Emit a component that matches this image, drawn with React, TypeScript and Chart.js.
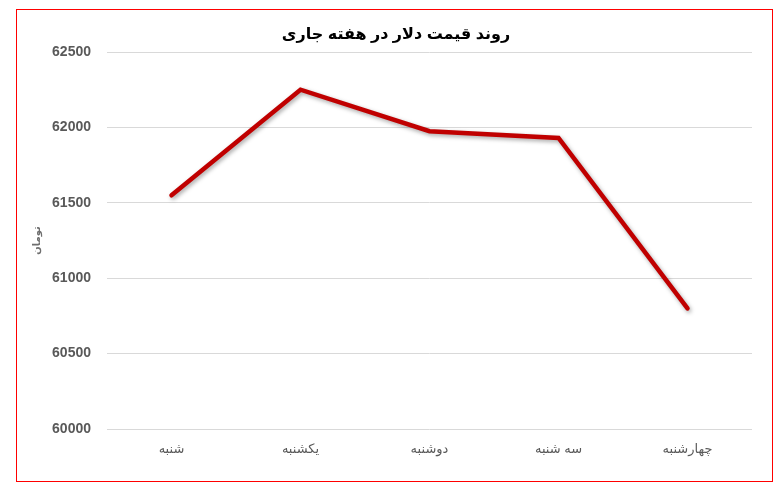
import React, { useEffect, useRef } from "react";
import { Chart, registerables } from "chart.js";

Chart.register(...registerables);

const days = ["شنبه", "یکشنبه", "دوشنبه", "سه شنبه", "چهارشنبه"];
const prices = [61550, 62250, 61975, 61930, 60800];
const yTicks = [60000, 60500, 61000, 61500, 62000, 62500];
const chartTitle = "روند قیمت دلار در هفته جاری";
const yTitle = "تومان";

const shadowPlugin = {
  id: "lineShadow",
  beforeDatasetsDraw(chart: any) {
    const ctx = chart.ctx;
    ctx.save();
    ctx.shadowColor = "rgba(0,0,0,0.35)";
    ctx.shadowBlur = 4;
    ctx.shadowOffsetX = 1.5;
    ctx.shadowOffsetY = 2;
  },
  afterDatasetsDraw(chart: any) {
    chart.ctx.restore();
  },
};

const bgPlugin = {
  id: "bg",
  beforeDraw(chart: any) {
    const ctx = chart.ctx;
    ctx.save();
    ctx.fillStyle = "#ffffff";
    ctx.fillRect(0, 0, chart.width, chart.height);
    ctx.restore();
  },
};

const titlePlugin = {
  id: "customTitle",
  afterDraw(chart: any) {
    const ctx = chart.ctx;
    ctx.save();
    ctx.fillStyle = "#000000";
    ctx.font = "bold 16px 'Liberation Sans', Arial, 'DejaVu Sans', sans-serif";
    ctx.textAlign = "center";
    ctx.textBaseline = "middle";
    ctx.fillText(chartTitle, 396, 35);
    ctx.restore();
  },
};

export default function App() {
  const ref = useRef<HTMLCanvasElement | null>(null);

  useEffect(() => {
    document.body.style.margin = "0";
    const canvas = ref.current;
    if (!canvas) return;
    const chart = new Chart(canvas, {
      type: "line",
      data: {
        labels: days,
        datasets: [
          {
            data: prices,
            borderColor: "#C00000",
            borderWidth: 4.5,
            pointRadius: 0,
            pointHoverRadius: 0,
            tension: 0,
            fill: false,
            borderCapStyle: "round",
            borderJoinStyle: "miter",
          },
        ],
      },
      options: {
        animation: false,
        responsive: false,
        maintainAspectRatio: false,
        layout: { padding: { left: 0, right: 30, top: 52, bottom: 0 } },
        plugins: {
          legend: { display: false },
          tooltip: { enabled: false },
          title: { display: false },
        },
        scales: {
          x: {
            type: "category",
            offset: true,
            afterFit(scale: any) {
              scale.height = 56;
            },
            grid: { display: false, drawTicks: false, offset: true },
            border: { display: false },
            ticks: {
              color: "#595959",
              padding: 13,
              maxRotation: 0,
              font: { family: "'Liberation Sans', Arial, 'DejaVu Sans', sans-serif", size: 13 },
            },
          },
          y: {
            min: 60000,
            max: 62500,
            afterBuildTicks(scale: any) {
              scale.ticks = yTicks.map((v) => ({ value: v }));
            },
            afterFit(scale: any) {
              scale.width = 107;
            },
            grid: { color: "#d9d9d9", lineWidth: 1, drawTicks: false },
            border: { display: false },
            ticks: {
              color: "#595959",
              padding: 16,
              callback: (v: any) => String(v),
              font: { family: "'Liberation Sans', Arial, sans-serif", size: 14, weight: "bold" },
            },
            title: {
              display: true,
              text: yTitle,
              color: "#6f6f6f",
              padding: { top: 31, bottom: 0 },
              font: { family: "'DejaVu Sans', sans-serif", size: 10, weight: "bold" },
            },
          },
        },
      },
      plugins: [bgPlugin, shadowPlugin, titlePlugin],
    } as any);
    return () => chart.destroy();
  }, []);

  return (
    <div style={{ position: "relative", width: 782, height: 485, background: "#fff" }}>
      <canvas ref={ref} width={782} height={485} style={{ display: "block", width: 782, height: 485 }} />
      <div
        style={{
          position: "absolute",
          left: 16,
          top: 9,
          width: 757,
          height: 473,
          border: "1px solid #ff0000",
          boxSizing: "border-box",
          pointerEvents: "none",
        }}
      />
    </div>
  );
}
